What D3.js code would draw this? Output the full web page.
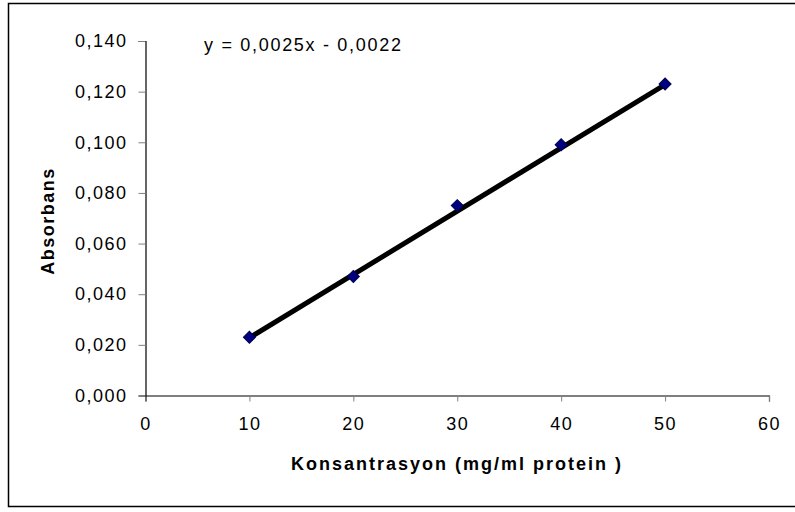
<!DOCTYPE html>
<html>
<head>
<meta charset="utf-8">
<script src="https://cdn.jsdelivr.net/npm/d3@7"></script>
<style>
  body { margin: 0; background: #fff; }
  svg text { font-family: "Liberation Sans", Arial, sans-serif; fill: #000; }
</style>
</head>
<body>
<div id="chart"></div>
<script>
// data
var concentrations = [10, 20, 30, 40, 50];
var absorbance = [0.023, 0.047, 0.075, 0.099, 0.123];
var xTicks = [0, 10, 20, 30, 40, 50, 60];
var yTicks = [0, 0.02, 0.04, 0.06, 0.08, 0.10, 0.12, 0.14];
var slope = 0.0025, intercept = -0.0022;
var equationLabel = 'y = 0,0025x - 0,0022';

var width = 795, height = 512;
var svg = d3.select('#chart').append('svg')
    .attr('width', width)
    .attr('height', height);

// outer chart frame
svg.append('rect')
    .attr('x', 8.5).attr('y', 3.5)
    .attr('width', 800).attr('height', 503)
    .attr('fill', 'none')
    .attr('stroke', '#000')
    .attr('stroke-width', 1.5);

var x = d3.scaleLinear().domain([0, 60]).range([145.5, 769]);
var y = d3.scaleLinear().domain([0, 0.14]).range([395.5, 41]);

var fmt = function (d) { return d3.format('.3f')(d).replace('.', ','); };

var xAxis = svg.append('g')
    .attr('transform', 'translate(0,' + y(0) + ')')
    .call(d3.axisBottom(x).tickValues(xTicks).tickSize(6).tickPadding(16));
xAxis.select('.domain').attr('stroke', '#000').attr('stroke-width', 1.2);
xAxis.selectAll('.tick line').attr('stroke', '#808080');
xAxis.selectAll('.tick text').attr('font-size', 18).attr('letter-spacing', 1.5);

var yAxis = svg.append('g')
    .attr('transform', 'translate(' + x(0) + ',0)')
    .call(d3.axisLeft(y).tickValues(yTicks).tickFormat(fmt).tickSize(7).tickPadding(11));
yAxis.select('.domain').attr('stroke', '#000').attr('stroke-width', 1.2);
yAxis.selectAll('.tick line').attr('stroke', '#808080');
yAxis.selectAll('.tick text').attr('font-size', 18).attr('letter-spacing', 1.5);

// axis titles
svg.append('text')
    .attr('x', 457).attr('y', 470)
    .attr('text-anchor', 'middle')
    .attr('font-size', 18)
    .attr('font-weight', 'bold')
    .attr('letter-spacing', 2)
    .text('Konsantrasyon (mg/ml protein )');

svg.append('text')
    .attr('transform', 'translate(54,221) rotate(-90)')
    .attr('text-anchor', 'middle')
    .attr('font-size', 18)
    .attr('font-weight', 'bold')
    .attr('letter-spacing', 1.5)
    .text('Absorbans');

// linear trend line
var xMin = d3.min(concentrations), xMax = d3.max(concentrations);
svg.append('line')
    .attr('x1', x(xMin)).attr('y1', y(slope * xMin + intercept))
    .attr('x2', x(xMax)).attr('y2', y(slope * xMax + intercept))
    .attr('stroke', '#000')
    .attr('stroke-width', 5);

// data markers
svg.append('g').selectAll('path')
    .data(concentrations)
    .enter().append('path')
    .attr('d', d3.symbol().type(d3.symbolSquare).size(72))
    .attr('transform', function (d, i) {
        return 'translate(' + x(d) + ',' + y(absorbance[i]) + ') rotate(45)';
    })
    .attr('fill', '#000080')
    .attr('stroke', '#000050')
    .attr('stroke-width', 1);

svg.append('text')
    .attr('x', 204).attr('y', 51)
    .attr('font-size', 18)
    .attr('letter-spacing', 1.7)
    .text(equationLabel);
</script>
</body>
</html>
